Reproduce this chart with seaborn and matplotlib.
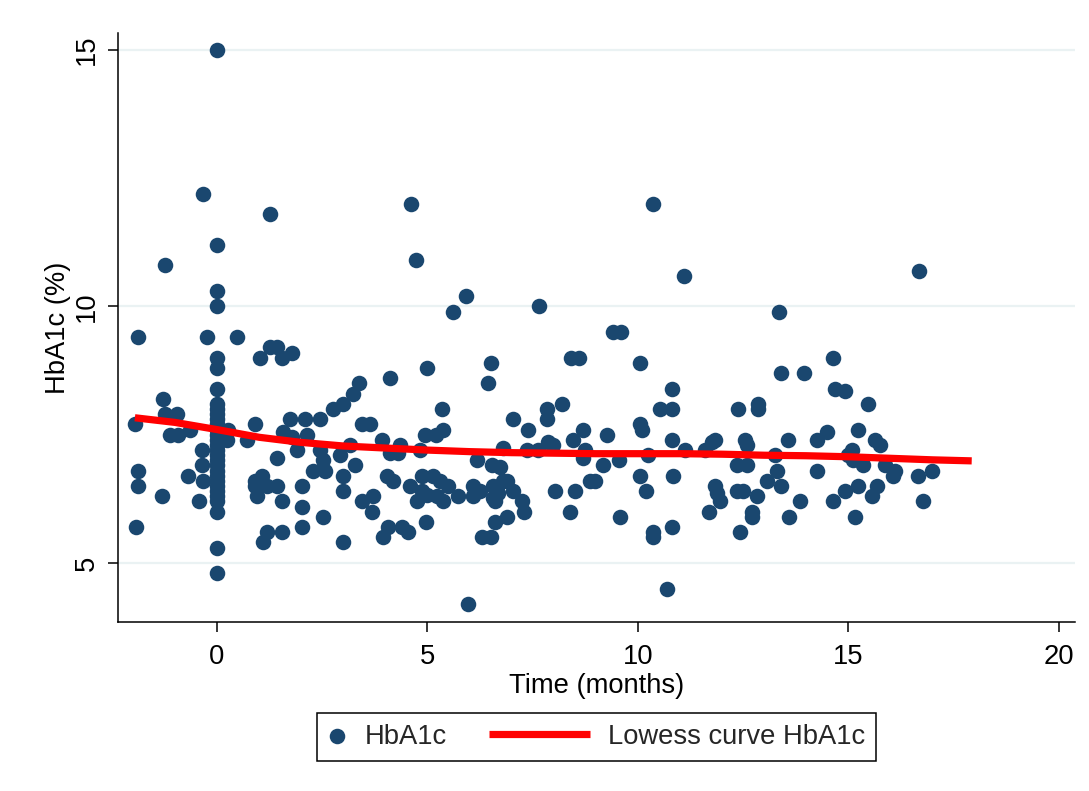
import matplotlib
matplotlib.use("Agg")
import matplotlib.pyplot as plt
from matplotlib.lines import Line2D
from matplotlib.legend_handler import HandlerLine2D
import seaborn as sns
import pandas as pd

# HbA1c measurements: time since baseline (months) and HbA1c (%)
time_months = [
    -1.95, -1.87, -1.87, -1.92, -1.87, -1.24, -1.31, -1.28, -1.24, -0.95,
    -1.12, -0.93, -0.64, -0.33, -0.24, -0.36, -0.36, -0.69, -0.33, -0.43,
    0, 0, 0, 0, 0, 0, 0, 0, 0, 0,
    0, 0, 0, 0, 0, 0, 0, 0, 0, 0,
    0, 0, 0, 0, 0, 0, 0, 0, 0, 0,
    0.26, 0.24, 0.47, 0.71, 0.90,
    1.26, 1.02, 1.26, 1.42, 1.54, 1.78, 3.38,
    1.57, 1.78, 1.73, 2.09, 2.14, 2.45, 2.76, 3.00, 3.23, 1.42,
    1.90, 2.45, 2.52, 2.92, 3.16, 1.07, 0.90, 0.90, 0.95, 1.19,
    1.42, 1.54, 2.02, 2.02, 2.02, 2.28, 2.57, 2.52, 1.19, 1.09,
    1.54, 3.00, 3.00, 3.00, 3.28, 3.44,
    4.60, 4.73, 5.91, 5.60, 7.65, 8.40, 8.60, 4.99, 6.50, 6.44,
    4.10, 5.34, 3.44, 3.63, 3.92, 4.10, 4.30, 4.35, 4.82, 4.94,
    5.20, 5.37, 4.04, 4.18, 3.70, 3.68, 4.58, 4.87, 5.13, 5.30,
    5.49, 4.87, 4.75, 5.00, 5.22, 5.37, 5.72, 4.06, 4.39, 4.54,
    3.94, 4.96, 5.96, 6.18, 6.53, 6.72, 6.80, 7.03, 7.39, 7.36,
    7.62, 7.86, 7.98, 7.84, 7.84, 8.20, 8.46, 8.70, 8.74, 6.08,
    6.08, 6.25, 6.56, 6.56, 6.80, 6.90, 7.03, 7.24, 7.30, 6.60,
    6.88, 6.30, 6.50, 6.60, 6.67, 8.03, 8.50, 8.38, 8.86,
    10.36, 11.10, 13.35, 9.40, 9.60, 10.05, 10.80, 13.40, 13.94, 10.52,
    10.80, 12.38, 12.85, 12.85, 9.26, 8.70, 9.17, 9.55, 8.98, 9.57,
    10.05, 10.10, 10.24, 10.05, 10.19, 10.36, 10.36, 10.80, 10.83, 10.80,
    10.69, 11.12, 11.60, 11.76, 11.83, 11.83, 11.88, 11.95, 11.70, 12.54,
    12.60, 12.35, 12.60, 12.35, 12.50, 12.83, 13.06, 12.70, 12.70, 12.42,
    13.25, 13.30, 13.40, 13.56, 13.85, 13.60, 14.25, 14.25,
    16.67, 14.63, 14.68, 14.92, 15.46, 14.49, 15.23, 15.63, 15.75, 15.08,
    14.99, 15.10, 15.34, 15.87, 16.10, 16.06, 16.65, 16.98, 16.77, 14.63,
    14.92, 15.23, 15.68, 15.56, 15.15,
]
hba1c = [
    7.7, 6.8, 6.5, 5.7, 9.4, 10.8, 6.3, 8.2, 7.9, 7.9,
    7.5, 7.5, 7.6, 12.2, 9.4, 7.2, 6.9, 6.7, 6.6, 6.2,
    15.0, 11.2, 10.3, 10.0, 9.0, 8.8, 8.4, 8.1, 8.0, 7.9,
    7.8, 7.7, 7.6, 7.5, 7.4, 7.3, 7.2, 7.1, 7.0, 6.9,
    6.8, 6.7, 6.6, 6.5, 6.4, 6.3, 6.2, 6.0, 5.3, 4.8,
    7.6, 7.4, 9.4, 7.4, 7.7,
    11.8, 9.0, 9.2, 9.2, 9.0, 9.1, 8.5,
    7.55, 7.45, 7.8, 7.8, 7.5, 7.8, 8.0, 8.1, 8.3, 7.05,
    7.2, 7.2, 7.0, 7.1, 7.3, 6.7, 6.6, 6.5, 6.3, 6.5,
    6.5, 6.2, 6.5, 6.1, 5.7, 6.8, 6.8, 5.9, 5.6, 5.4,
    5.6, 6.7, 6.4, 5.4, 6.9, 6.2,
    12.0, 10.9, 10.2, 9.9, 10.0, 9.0, 9.0, 8.8, 8.9, 8.5,
    8.6, 8.0, 7.7, 7.7, 7.4, 7.15, 7.15, 7.3, 7.2, 7.5,
    7.5, 7.6, 6.7, 6.6, 6.3, 6.0, 6.5, 6.7, 6.7, 6.6,
    6.5, 6.4, 6.2, 6.33, 6.3, 6.2, 6.3, 5.7, 5.7, 5.6,
    5.5, 5.8, 4.2, 7.0, 6.9, 6.87, 7.25, 7.8, 7.6, 7.2,
    7.2, 7.36, 7.3, 8.0, 7.8, 8.1, 7.4, 7.6, 7.2, 6.5,
    6.3, 6.4, 6.5, 6.27, 6.6, 6.6, 6.4, 6.2, 6.0, 5.8,
    5.9, 5.5, 5.5, 6.2, 6.36, 6.4, 6.4, 6.0, 6.6,
    12.0, 10.6, 9.9, 9.5, 9.5, 8.9, 8.4, 8.7, 8.7, 8.0,
    8.0, 8.0, 8.1, 8.0, 7.5, 7.05, 6.9, 7.0, 6.6, 5.9,
    7.7, 7.6, 7.1, 6.7, 6.4, 5.6, 5.5, 7.4, 6.7, 5.7,
    4.5, 7.2, 7.2, 7.36, 7.4, 6.5, 6.37, 6.2, 6.0, 7.4,
    7.3, 6.9, 6.9, 6.4, 6.4, 6.3, 6.6, 6.0, 5.9, 5.6,
    7.1, 6.8, 6.5, 7.4, 6.2, 5.9, 7.4, 6.8,
    10.7, 9.0, 8.4, 8.35, 8.1, 7.55, 7.6, 7.4, 7.3, 7.2,
    7.1, 7.0, 6.9, 6.9, 6.8, 6.7, 6.7, 6.8, 6.2, 6.2,
    6.4, 6.5, 6.5, 6.3, 5.9,
]

# Lowess smooth of HbA1c over time
lowess_time = [-1.95, -1.0, 0.0, 1.0, 2.0, 3.0, 4.0, 5.0, 6.0, 7.0, 8.0,
               9.0, 10.0, 11.0, 12.0, 13.0, 14.0, 15.0, 16.0, 17.0, 17.93]
lowess_hba1c = [7.83, 7.74, 7.60, 7.45, 7.35, 7.28, 7.24, 7.20, 7.17, 7.15, 7.14,
                7.13, 7.13, 7.13, 7.12, 7.10, 7.09, 7.07, 7.04, 7.01, 6.99]

x_ticks = [0, 5, 10, 15, 20]
y_ticks = [5, 10, 15]

points = pd.DataFrame({"time": time_months, "hba1c": hba1c})
smooth = pd.DataFrame({"time": lowess_time, "hba1c": lowess_hba1c})

sns.set_theme(style="white")
plt.rcParams["font.family"] = ["Liberation Sans", "DejaVu Sans"]

navy = "#1a476f"
red = "#ff0000"
fs = 19.7

fig = plt.figure(figsize=(10.89, 7.91), dpi=100)
ax = fig.add_axes([0.1084, 0.2137, 0.8786, 0.7446])

sns.scatterplot(data=points, x="time", y="hba1c", ax=ax, color=navy,
                s=125, linewidth=0, label="HbA1c", zorder=3)
sns.lineplot(data=smooth, x="time", y="hba1c", ax=ax, color=red,
             linewidth=5.2, label="Lowess curve HbA1c", zorder=4,
             solid_capstyle="butt", sort=False)

ax.set_xlim(-2.35, 20.38)
ax.set_ylim(3.85, 15.33)
ax.set_xticks(x_ticks)
ax.set_yticks(y_ticks)
ax.set_xticklabels([str(t) for t in x_ticks])
ax.set_yticklabels([str(t) for t in y_ticks], rotation=90, va="center")

for y in y_ticks:
    ax.axhline(y, color="#eaf2f3", linewidth=1.6, zorder=1)

for side in ["top", "right"]:
    ax.spines[side].set_visible(False)
for side in ["left", "bottom"]:
    ax.spines[side].set_color("black")
    ax.spines[side].set_linewidth(1.1)

ax.tick_params(axis="both", direction="out", length=7, width=1.1,
               color="black", labelsize=fs, labelcolor="black")
ax.tick_params(axis="x", pad=9)
ax.tick_params(axis="y", pad=6)
ax.tick_params(axis="both", which="both", bottom=True, left=True)

ax.set_xlabel("Time (months)", fontsize=fs, color="black", labelpad=2)
ax.set_ylabel("HbA1c (%)", fontsize=fs, color="black", labelpad=2)


class WideLineHandler(HandlerLine2D):
    """Line legend key drawn wider than the marker key."""
    def legend_artist(self, legend, orig_handle, fontsize, handlebox):
        handlebox.width = 3.7 * fontsize
        return super().legend_artist(legend, orig_handle, fontsize, handlebox)


handles, labels = ax.get_legend_handles_labels()
leg = ax.legend(handles, labels, loc="upper center", bbox_to_anchor=(0.5, -0.154),
                ncol=2, fontsize=fs, frameon=True, fancybox=False,
                edgecolor="black", framealpha=1, handlelength=0.7,
                handletextpad=0.65, columnspacing=1.55, borderpad=0.4,
                borderaxespad=0.0,
                handler_map={Line2D: WideLineHandler()})
leg.get_frame().set_linewidth(1.1)

fig.savefig("out.png", dpi=100, facecolor="white")
